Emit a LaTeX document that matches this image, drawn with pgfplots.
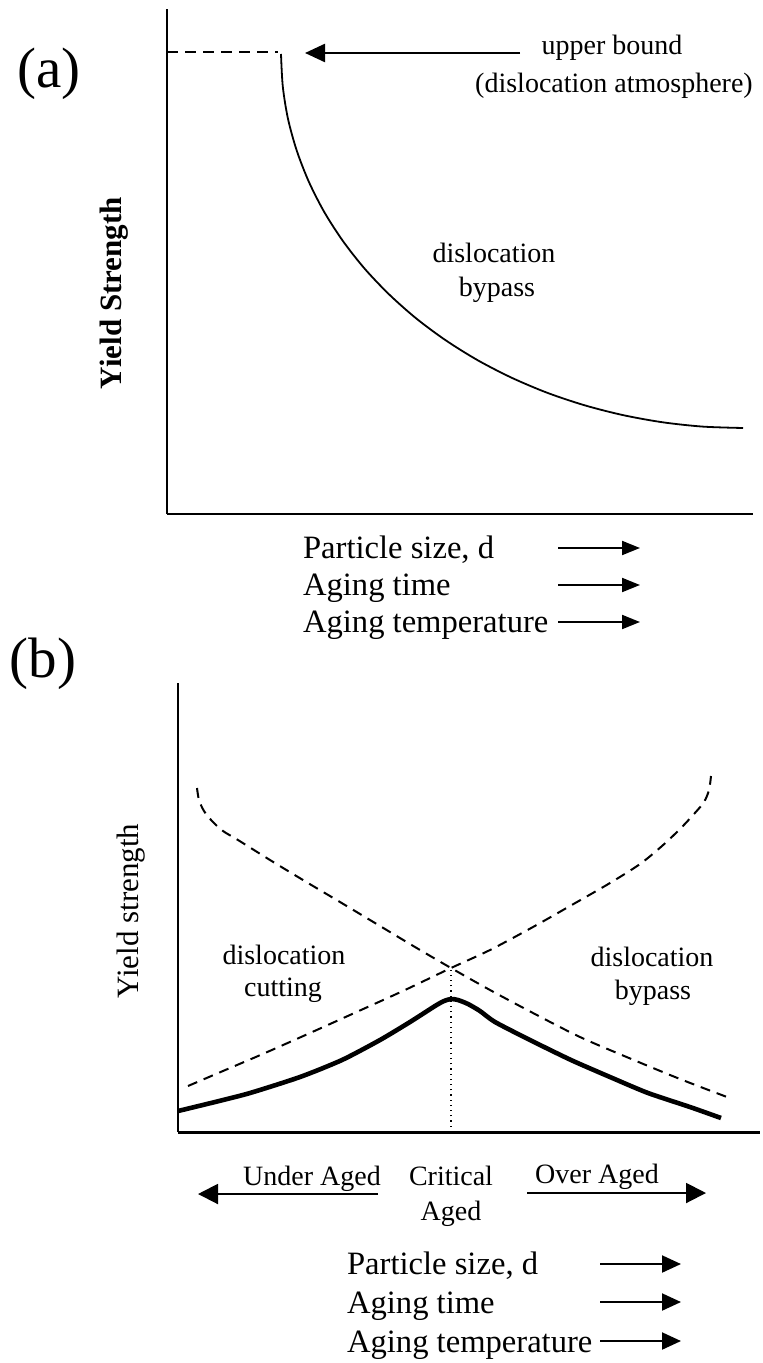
\documentclass[border=0pt]{standalone}
\usepackage{pgfplots}
\pgfplotsset{compat=1.18}
\usetikzlibrary{arrows.meta}
\usepackage{fontspec}
\setmainfont{Liberation Serif}
\newcommand{\fs}[1]{\fontsize{#1}{#1}\selectfont}
\pgfplotsset{
  panel/.style={
    x=0.5pt, y=0.5pt,
    axis x line*=bottom, axis y line*=left,
    axis line style={-},
    every outer x axis line/.append style={-},
    every outer y axis line/.append style={-},
    xtick=\empty, ytick=\empty,
    clip=false, anchor=south west,
  },
}
\begin{document}
\begin{tikzpicture}
\useasboundingbox (0,0) rectangle (381.5pt,-681.5pt);
% ---------------- panel (a) ----------------
\begin{axis}[panel,
  at={(83.5pt,-257pt)},
  xmin=0, xmax=586, ymin=0, ymax=505,
  x axis line style={line width=1.2pt},
  y axis line style={line width=1pt},
]
\addplot[black, line width=0.9pt, dash pattern=on 5.5pt off 3.5pt] coordinates {(0,462) (111,462)};
\addplot[black, line width=0.9pt, smooth] coordinates {
(114,460) (115.8,427.4) (121.0,395.1) (129.8,363.2) (141.9,332.1)
(157.3,301.9) (175.9,273.0) (197.5,245.5) (222.1,219.6) (249.3,195.5)
(279.0,173.5) (311.0,153.6) (345.0,136.1) (380.8,121.0) (418.0,108.6)
(456.4,98.8) (495.8,91.7) (535.7,87.4) (576,86)};
\draw[line width=1.2pt, -{Triangle[length=10pt,width=9pt]}] (axis cs:353,461) -- (axis cs:138,461);
\node[font=\fs{28.5}, anchor=base] at (axis cs:-118,426) {(a)};
\node[font=\fs{14}, anchor=base] at (axis cs:445,459) {upper bound};
\node[font=\fs{14}, anchor=base] at (axis cs:447,421) {(dislocation atmosphere)};
\node[font=\fs{14}, anchor=base] at (axis cs:327,251) {dislocation};
\node[font=\fs{14}, anchor=base] at (axis cs:330,217) {bypass};
\node[font=\bfseries\fs{15.5}, rotate=90] at (axis cs:-53,221) {Yield Strength};
\node[font=\fs{16.3}, anchor=base west] at (axis cs:129,-44) {Particle size, d};
\node[font=\fs{16.3}, anchor=base west] at (axis cs:129,-81) {Aging time};
\node[font=\fs{16.3}, anchor=base west] at (axis cs:129,-118) {Aging temperature};
\draw[line width=1pt, -{Triangle[length=9pt,width=7pt]}] (axis cs:391,-34) -- (axis cs:473,-34);
\draw[line width=1pt, -{Triangle[length=9pt,width=7pt]}] (axis cs:391,-71) -- (axis cs:473,-71);
\draw[line width=1pt, -{Triangle[length=9pt,width=7pt]}] (axis cs:391,-108) -- (axis cs:473,-108);
\end{axis}
% ---------------- panel (b) ----------------
\begin{axis}[panel,
  at={(89pt,-566pt)},
  xmin=0, xmax=582, ymin=0, ymax=449,
  x axis line style={line width=1.5pt},
  y axis line style={line width=0.8pt},
]
% dislocation cutting (rising, dashed)
\addplot[black, line width=1pt, dash pattern=on 5pt off 3.5pt, smooth, tension=0.5] coordinates {
(10,46) (52,64) (87,79) (132,99) (183,122) (227,142) (273,164) (312,182)
(355,205) (392,226) (432,249) (462,268) (484,286) (502,303) (516,318)
(526,330) (531,342) (533,356)};
% dislocation bypass (falling, dashed)
\addplot[black, line width=1pt, dash pattern=on 5pt off 3.5pt, smooth, tension=0.5] coordinates {
(19,344) (21,332) (26,321) (34,311) (45,301) (60,292) (92,272) (125,252)
(162,230) (202,206) (237,185) (273,164) (312,142) (355,119) (402,95)
(451,74) (502,53) (549,35)};
% resulting yield strength (bold)
\addplot[black, line width=2.3pt, smooth, tension=0.4] coordinates {
(0,21) (37,30) (72,39) (122,55) (164,72) (202,92) (232,110) (257,126)
(266,131) (273,133) (280,132) (290,128) (302,121) (317,110) (352,92)
(393,72) (432,55) (470,39) (512,25) (543,14)};
% critical aged marker
\addplot[black, line width=0.6pt, dotted] coordinates {(273,0) (273,164)};
\node[font=\fs{28.5}, anchor=base] at (axis cs:-135,455) {(b)};
\node[font=\fs{15.5}, rotate=90] at (axis cs:-47,221) {Yield strength};
\node[font=\fs{14}, anchor=base] at (axis cs:106,168) {dislocation};
\node[font=\fs{14}, anchor=base] at (axis cs:105,136) {cutting};
\node[font=\fs{14}, anchor=base] at (axis cs:474,166) {dislocation};
\node[font=\fs{14}, anchor=base] at (axis cs:475,133) {bypass};
\node[font=\fs{14}, anchor=base] at (axis cs:134,-53) {Under Aged};
\node[font=\fs{14}, anchor=base] at (axis cs:273,-53) {Critical};
\node[font=\fs{14}, anchor=base] at (axis cs:273,-88) {Aged};
\node[font=\fs{14}, anchor=base] at (axis cs:419,-51) {Over Aged};
\draw[line width=1pt, -{Triangle[length=10pt,width=10pt]}] (axis cs:200,-62) -- (axis cs:20,-62);
\draw[line width=1pt, -{Triangle[length=10pt,width=10pt]}] (axis cs:349,-61) -- (axis cs:528,-61);
\node[font=\fs{16.3}, anchor=base west] at (axis cs:162,-142) {Particle size, d};
\node[font=\fs{16.3}, anchor=base west] at (axis cs:162,-181) {Aging time};
\node[font=\fs{16.3}, anchor=base west] at (axis cs:162,-220) {Aging temperature};
\draw[line width=1pt, -{Triangle[length=9.5pt,width=8.5pt]}] (axis cs:422,-132) -- (axis cs:503,-132);
\draw[line width=1pt, -{Triangle[length=9.5pt,width=8.5pt]}] (axis cs:422,-170) -- (axis cs:503,-170);
\draw[line width=1pt, -{Triangle[length=9.5pt,width=8.5pt]}] (axis cs:422,-209) -- (axis cs:503,-209);
\end{axis}
\end{tikzpicture}
\end{document}
